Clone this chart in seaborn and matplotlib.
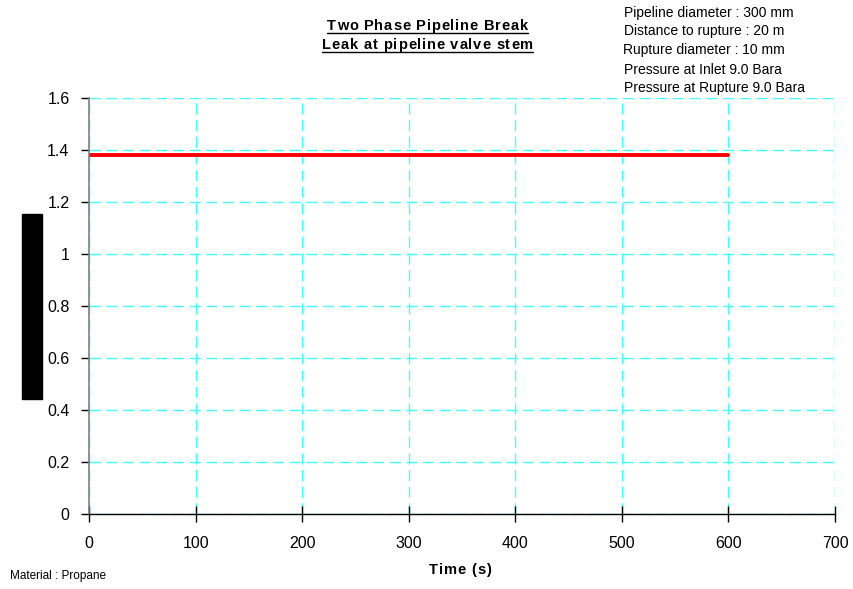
import matplotlib
matplotlib.use("Agg")
import matplotlib.pyplot as plt
from matplotlib.patches import Rectangle
from matplotlib.lines import Line2D
import seaborn as sns
import pandas as pd

sns.set_theme(style="white")
plt.rcParams["font.family"] = ["Liberation Sans", "DejaVu Sans"]

# Release rate over time
time_s = [0, 600]
rate = [1.38, 1.38]

x_ticks = [0, 100, 200, 300, 400, 500, 600, 700]
y_ticks = [0, 0.2, 0.4, 0.6, 0.8, 1.0, 1.2, 1.4, 1.6]
y_labels = ["0", "0.2", "0.4", "0.6", "0.8", "1", "1.2", "1.4", "1.6"]

title_lines = ["Two Phase Pipeline Break", "Leak at pipeline valve stem"]
info_lines = [
    "Pipeline diameter : 300 mm",
    "Distance to rupture : 20 m",
    "Rupture diameter : 10 mm",
    "Pressure at Inlet 9.0 Bara",
    "Pressure at Rupture 9.0 Bara",
]

df = pd.DataFrame({"Time (s)": time_s, "rate": rate})

W, H = 854, 589
fig = plt.figure(figsize=(W / 100, H / 100), dpi=100)
ax = fig.add_axes([89 / W, 1 - 514 / H, (835 - 89) / W, (514 - 98) / H])

sns.lineplot(data=df, x="Time (s)", y="rate", ax=ax, color="#ff0000", linewidth=2.8)

ax.set_xlim(0, 700)
ax.set_ylim(0, 1.6)
ax.set_xticks(x_ticks)
ax.set_xticklabels([str(v) for v in x_ticks], fontsize=11.5)
ax.set_yticks(y_ticks)
ax.set_yticklabels(y_labels, fontsize=11.5)
ax.grid(True, color="#40ffff", linestyle=(0, (8, 4)), linewidth=1.0)
for s in ["top", "right"]:
    ax.spines[s].set_visible(False)
ax.spines["left"].set_color("#808080")
ax.spines["bottom"].set_color("#000000")
ax.spines["left"].set_linewidth(1.2)
ax.spines["bottom"].set_linewidth(1.0)
ax.tick_params(axis="x", bottom=True, direction="inout", length=11, width=1.0,
               color="#000000", labelcolor="#000000", pad=10)
ax.tick_params(axis="y", left=True, direction="out", length=6, width=1.0,
               color="#000000", labelcolor="#000000", pad=8)
ax.set_xlabel("")
ax.set_ylabel("")

# Blacked-out axis label block
fig.add_artist(Rectangle((22 / W, 1 - 399 / H), 20 / W, 185 / H,
                         transform=fig.transFigure, color="black", zorder=5))

fig.canvas.draw()
renderer = fig.canvas.get_renderer()


def spaced_text(s, x0, x1, yc, underline=False, **kw):
    """Lay out a string one glyph at a time so that it spans x0..x1 (pixels)."""
    widths = []
    for ch in s:
        t = fig.text(0, 0, ch, **kw)
        bb = t.get_window_extent(renderer)
        widths.append(bb.width if ch != " " else None)
        t.remove()
    probe = fig.text(0, 0, "a a", **kw)
    probe2 = fig.text(0, 0, "aa", **kw)
    space_w = probe.get_window_extent(renderer).width - probe2.get_window_extent(renderer).width
    probe.remove()
    probe2.remove()
    widths = [w if w is not None else space_w for w in widths]
    gap = (x1 - x0 - sum(widths)) / max(len(s) - 1, 1)
    x = x0
    for ch, w in zip(s, widths):
        if ch != " ":
            fig.text(x / W, 1 - yc / H, ch, ha="left", va="center", **kw)
        x += w + gap
    if underline:
        fig.add_artist(Line2D([x0 / W, x1 / W], [1 - (yc + 7) / H, 1 - (yc + 7) / H],
                              transform=fig.transFigure, color="black", linewidth=1.0))


bold = dict(fontsize=10.5, fontweight="bold", color="#000000")
spaced_text(title_lines[0], 327, 528, 26, underline=True, **bold)
spaced_text(title_lines[1], 322, 533, 45, underline=True, **bold)
spaced_text("Time (s)", 429, 491, 570, **bold)

info_y = [13, 31, 50, 70, 88]
for i, line in enumerate(info_lines):
    fig.text((624 if i != 2 else 623) / W, 1 - info_y[i] / H, line,
             ha="left", va="center", fontsize=10, color="#000000")

fig.text(10 / W, 1 - 576 / H, "Material : Propane", ha="left", va="center",
         fontsize=8.5, color="#000000")

fig.savefig("out.png", dpi=100)
